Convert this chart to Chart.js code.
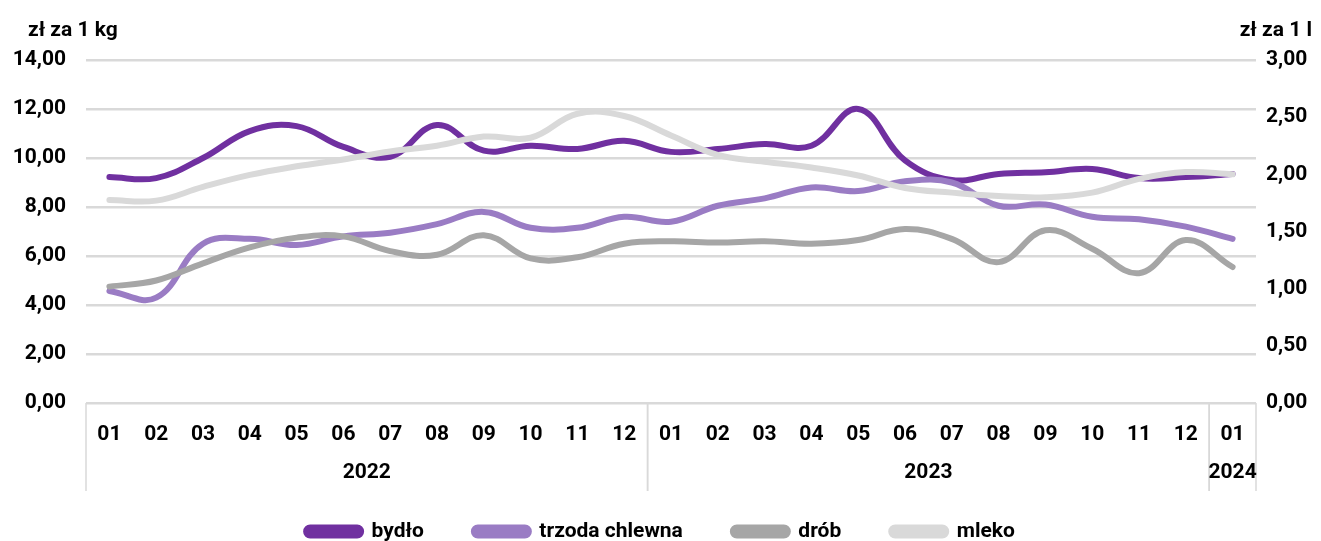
<!DOCTYPE html>
<html>
<head>
<meta charset="utf-8">
<script src="https://cdn.jsdelivr.net/npm/chart.js@4"></script>
<style>
  html, body { margin: 0; padding: 0; background: #fff; }
  #wrap { width: 1321px; height: 541px; }
</style>
</head>
<body>
<div id="wrap"><canvas id="pricesChart" width="1321" height="541"></canvas></div>
<script>
const months = ['01','02','03','04','05','06','07','08','09','10','11','12',
                '01','02','03','04','05','06','07','08','09','10','11','12','01'];
const years = [
  { label: '2022', from: 0, to: 11 },
  { label: '2023', from: 12, to: 23 },
  { label: '2024', from: 24, to: 24 }
];

const bydlo  = [9.22, 9.18, 10.0, 11.1, 11.3, 10.45, 10.05, 11.35, 10.3, 10.5, 10.37, 10.7,
                10.25, 10.37, 10.57, 10.5, 12.0, 9.9, 9.1, 9.35, 9.42, 9.55, 9.18, 9.22, 9.35];
const trzoda = [4.57, 4.3, 6.5, 6.7, 6.45, 6.8, 6.95, 7.3, 7.8, 7.15, 7.15, 7.6,
                7.4, 8.05, 8.35, 8.8, 8.65, 9.05, 9.0, 8.05, 8.1, 7.6, 7.5, 7.2, 6.7];
const drob   = [4.75, 5.0, 5.7, 6.35, 6.75, 6.8, 6.2, 6.05, 6.85, 5.9, 5.95, 6.5,
                6.6, 6.55, 6.6, 6.5, 6.65, 7.1, 6.7, 5.75, 7.05, 6.3, 5.3, 6.65, 5.55];
const mleko  = [1.775, 1.77, 1.89, 1.995, 2.07, 2.13, 2.2, 2.25, 2.33, 2.32, 2.53, 2.51,
                2.34, 2.17, 2.11, 2.06, 1.99, 1.88, 1.84, 1.81, 1.80, 1.84, 1.96, 2.02, 2.0];

const FONT = 'Roboto, "DejaVu Sans Condensed", sans-serif';
const FSIZE = 21;
const GRID = '#d9d9d9';

// year row under the months, separators and the two unit labels
const extrasPlugin = {
  id: 'extras',
  afterDraw(chart) {
    const c = chart.ctx;
    const x = chart.scales.x;
    const area = chart.chartArea;
    const step = x.getPixelForValue(1) - x.getPixelForValue(0);
    c.save();
    c.strokeStyle = GRID;
    c.lineWidth = 1.5;
    c.fillStyle = '#000';
    c.font = 'bold ' + FSIZE + 'px ' + FONT;
    c.textAlign = 'center';
    c.textBaseline = 'middle';
    years.forEach(y => {
      const left = x.getPixelForValue(y.from) - step / 2;
      const right = x.getPixelForValue(y.to) + step / 2;
      c.beginPath();
      c.moveTo(left, area.bottom);
      c.lineTo(left, area.bottom + 88);
      c.moveTo(right, area.bottom);
      c.lineTo(right, area.bottom + 88);
      c.stroke();
      c.fillText(y.label, (left + right) / 2, area.bottom + 70);
    });
    c.textAlign = 'left';
    c.fillText('zł za 1 kg', 28, 31);
    c.textAlign = 'right';
    c.fillText('zł za 1 l', 1312, 31);
    c.restore();
  }
};

new Chart(document.getElementById('pricesChart'), {
  type: 'line',
  data: {
    labels: months,
    datasets: [
      { label: 'bydło', data: bydlo, yAxisID: 'y', borderColor: '#7030a0', backgroundColor: '#7030a0', order: 4 },
      { label: 'trzoda chlewna', data: trzoda, yAxisID: 'y', borderColor: '#9a7cc4', backgroundColor: '#9a7cc4', order: 3 },
      { label: 'drób', data: drob, yAxisID: 'y', borderColor: '#a6a6a6', backgroundColor: '#a6a6a6', order: 2 },
      { label: 'mleko', data: mleko, yAxisID: 'y1', borderColor: '#d9d9d9', backgroundColor: '#d9d9d9', order: 1 }
    ]
  },
  options: {
    responsive: false,
    animation: false,
    layout: { padding: { top: 60, left: 0, right: 0, bottom: -11 } },
    elements: {
      line: { borderWidth: 6, tension: 0.4, borderCapStyle: 'round', borderJoinStyle: 'round' },
      point: { radius: 0 }
    },
    scales: {
      x: {
        offset: true,
        grid: { display: false, drawTicks: false },
        border: { display: false },
        ticks: { color: '#000', font: { family: FONT, size: FSIZE, weight: 'bold' }, padding: 19, maxRotation: 0, autoSkip: false },
        afterFit(scale) { scale.height = 68; }
      },
      y: {
        position: 'left',
        min: 0, max: 14,
        grid: { color: GRID, lineWidth: 2.5, drawTicks: false },
        border: { display: false },
        ticks: {
          stepSize: 2, padding: 20, color: '#000',
          font: { family: FONT, size: FSIZE, weight: 'bold' },
          callback: v => v.toFixed(2).replace('.', ',')
        },
        afterFit(scale) { scale.width = 86; }
      },
      y1: {
        position: 'right',
        min: 0, max: 3,
        grid: { display: false, drawTicks: false },
        border: { display: false },
        ticks: {
          stepSize: 0.5, padding: 10, color: '#000',
          font: { family: FONT, size: FSIZE, weight: 'bold' },
          callback: v => v.toFixed(2).replace('.', ',')
        },
        afterFit(scale) { scale.width = 65; }
      }
    },
    plugins: {
      legend: {
        position: 'bottom',
        labels: {
          color: '#000',
          font: { family: FONT, size: FSIZE, weight: 'bold' },
          boxWidth: 55, boxHeight: 8, useBorderRadius: true, borderRadius: 4,
          padding: 50,
          sort: (a, b) => a.datasetIndex - b.datasetIndex
        }
      },
      tooltip: { enabled: false }
    }
  },
  plugins: [extrasPlugin]
});
</script>
</body>
</html>
